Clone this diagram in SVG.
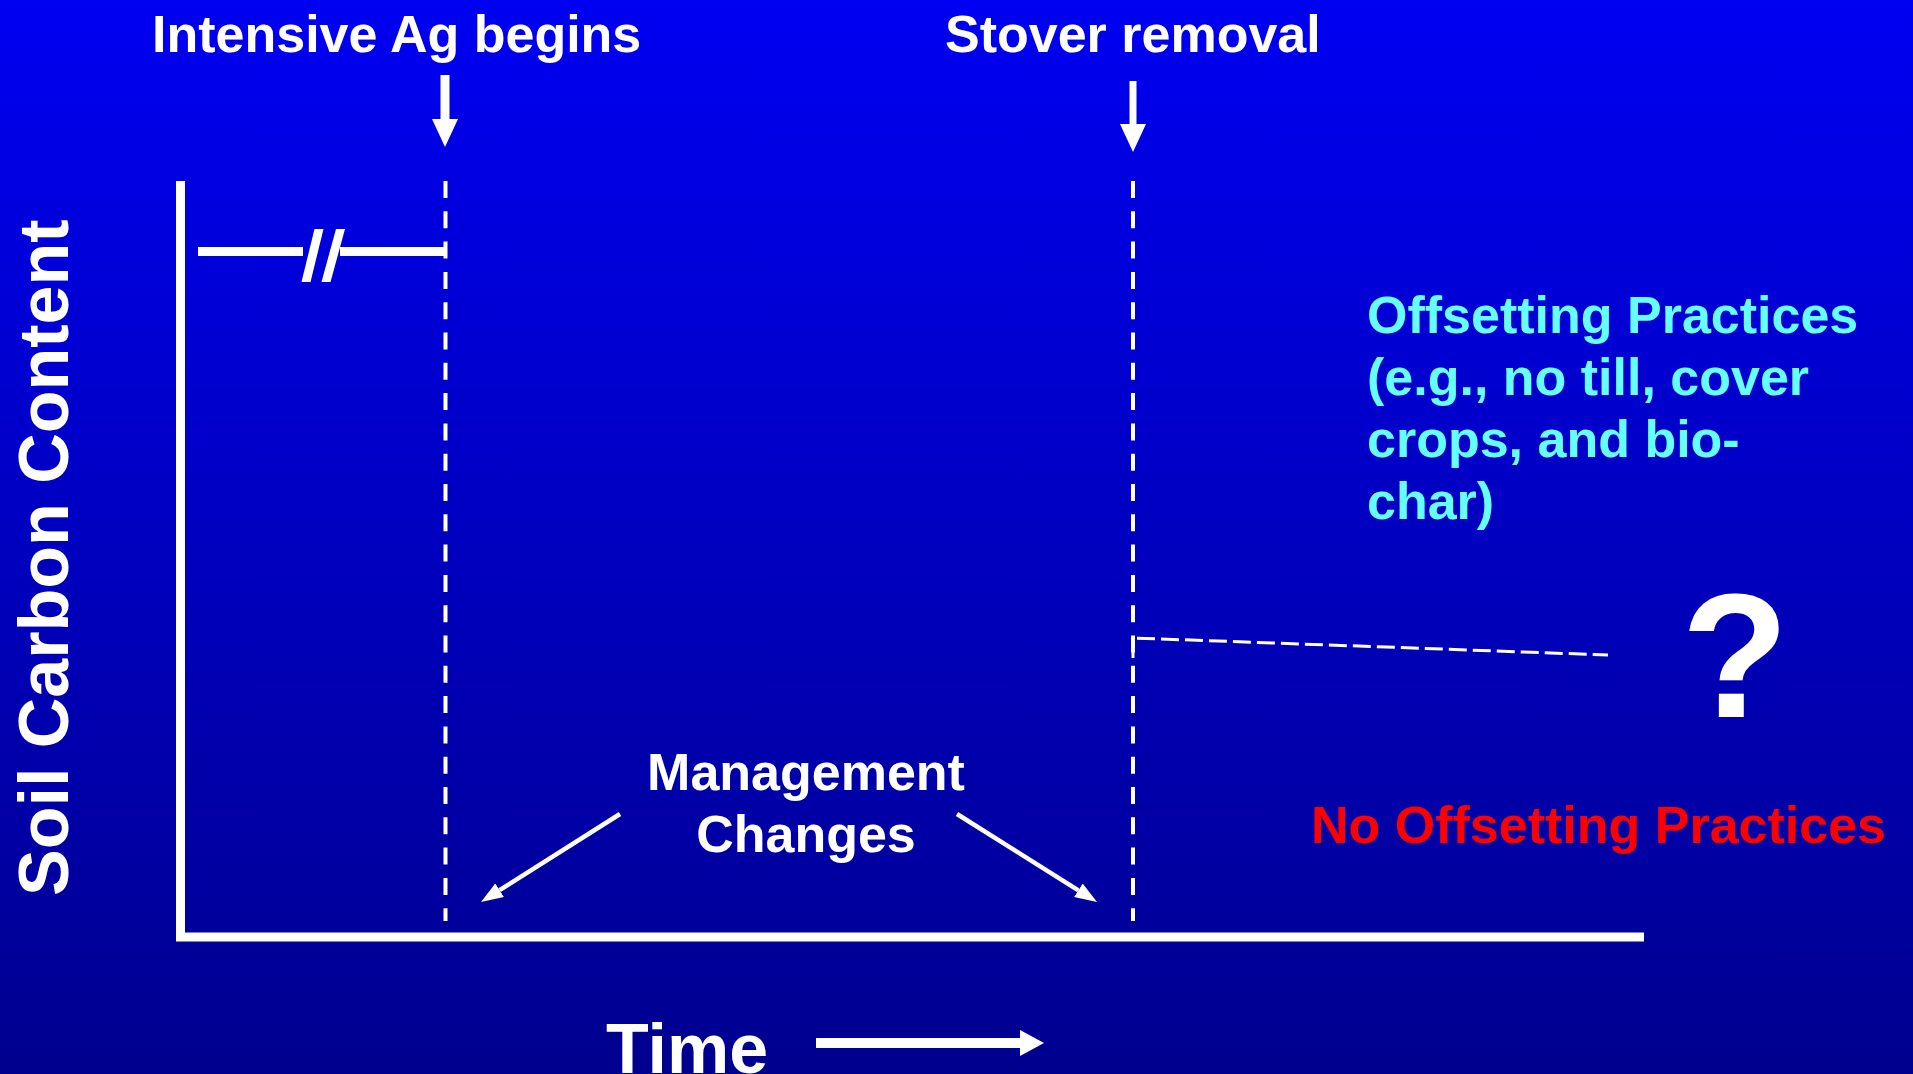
<svg xmlns="http://www.w3.org/2000/svg" width="1913" height="1074" viewBox="0 0 1913 1074">
  <defs>
    <linearGradient id="bg" x1="0" y1="0" x2="0" y2="1">
      <stop offset="0" stop-color="#0000F2"/>
      <stop offset="1" stop-color="#00008E"/>
    </linearGradient>
    <marker id="headBig" viewBox="0 0 28 26" markerUnits="userSpaceOnUse" markerWidth="28" markerHeight="26" refX="0" refY="13" orient="auto">
      <path d="M0,0 L28,13 L0,26 z" fill="#FFFFFF"/>
    </marker>
    <marker id="headSmall" viewBox="0 0 22 16" markerUnits="userSpaceOnUse" markerWidth="22" markerHeight="16" refX="0" refY="8" orient="auto">
      <path d="M0,0 L22,8 L0,16 z" fill="#FFFFFF"/>
    </marker>
    <marker id="headTime" viewBox="0 0 24 26" markerUnits="userSpaceOnUse" markerWidth="24" markerHeight="26" refX="0" refY="13" orient="auto">
      <path d="M0,0 L24,13 L0,26 z" fill="#FFFFFF"/>
    </marker>
    <style>
      .t { font-family: "Liberation Sans", Arial, sans-serif; font-weight: bold; }
      .w { fill: #FFFFFF; }
      .c { fill: #66FFFF; }
      .r { fill: #FF0000; }
      .s52 { font-size: 52px; }
      .axis { stroke: #FFFFFF; stroke-width: 9; fill: none; }
      .vdash { stroke: #FFFFFF; stroke-width: 4; stroke-dasharray: 17 13.3; fill: none; }
      .hdash { stroke: #FFFFFF; stroke-width: 3; stroke-dasharray: 18 6; fill: none; }
      .arrow { stroke: #FFFFFF; fill: none; }
    </style>
  </defs>

  <rect x="0" y="0" width="1913" height="1074" fill="url(#bg)"/>

  <g id="axes">
    <line class="axis" x1="180.5" y1="181" x2="180.5" y2="941"/>
    <line class="axis" x1="176" y1="937" x2="1644" y2="937"/>
  </g>

  <g id="baseline-break">
    <line class="axis" x1="198" y1="251.5" x2="303" y2="251.5"/>
    <line class="axis" x1="340" y1="251.5" x2="446" y2="251.5"/>
    <polygon points="314.5,229 323.5,229 310.5,282 301.5,282" fill="#FFFFFF"/>
    <polygon points="336,229 345,229 330.5,282 321.5,282" fill="#FFFFFF"/>
  </g>

  <g id="connectors">
    <line class="vdash" x1="445.5" y1="181" x2="445.5" y2="921"/>
    <line class="vdash" x1="1133" y1="181" x2="1133" y2="921"/>
    <polyline class="hdash" points="1133,658 1133,638 1608,655"/>
    <line class="arrow" stroke-width="9" x1="445" y1="75" x2="445" y2="119" marker-end="url(#headBig)"/>
    <line class="arrow" stroke-width="7" x1="1133" y1="81" x2="1133" y2="124" marker-end="url(#headBig)"/>
    <line class="arrow" stroke-width="4.5" x1="620" y1="814" x2="499.6" y2="890.2" marker-end="url(#headSmall)"/>
    <line class="arrow" stroke-width="4.5" x1="957" y1="814" x2="1078.4" y2="890.3" marker-end="url(#headSmall)"/>
    <line class="arrow" stroke-width="10" x1="816" y1="1043" x2="1020" y2="1043" marker-end="url(#headTime)"/>
  </g>

  <g id="label-intensive-ag">
    <text class="t w s52" x="152" y="52">Intensive Ag begins</text>
  </g>
  <g id="label-stover">
    <text class="t w s52" x="945" y="52">Stover removal</text>
  </g>
  <g id="label-y-axis">
    <text class="t w" font-size="70" transform="translate(68,896) rotate(-90)">Soil Carbon Content</text>
  </g>
  <g id="label-offsetting">
    <text class="t c s52" x="1367" y="333">Offsetting Practices</text>
    <text class="t c s52" x="1367" y="395">(e.g., no till, cover</text>
    <text class="t c s52" x="1367" y="457">crops, and bio-</text>
    <text class="t c s52" x="1367" y="519">char)</text>
  </g>
  <g id="label-question">
    <text class="t w" font-size="176" x="1735" y="717" text-anchor="middle">?</text>
  </g>
  <g id="label-no-offsetting">
    <text class="t r s52" x="1311" y="843">No Offsetting Practices</text>
  </g>
  <g id="label-management">
    <text class="t w s52" x="806" y="790" text-anchor="middle">Management</text>
    <text class="t w s52" x="806" y="852" text-anchor="middle">Changes</text>
  </g>
  <g id="label-time">
    <text class="t w" font-size="70" x="606" y="1073">Time</text>
  </g>
</svg>
